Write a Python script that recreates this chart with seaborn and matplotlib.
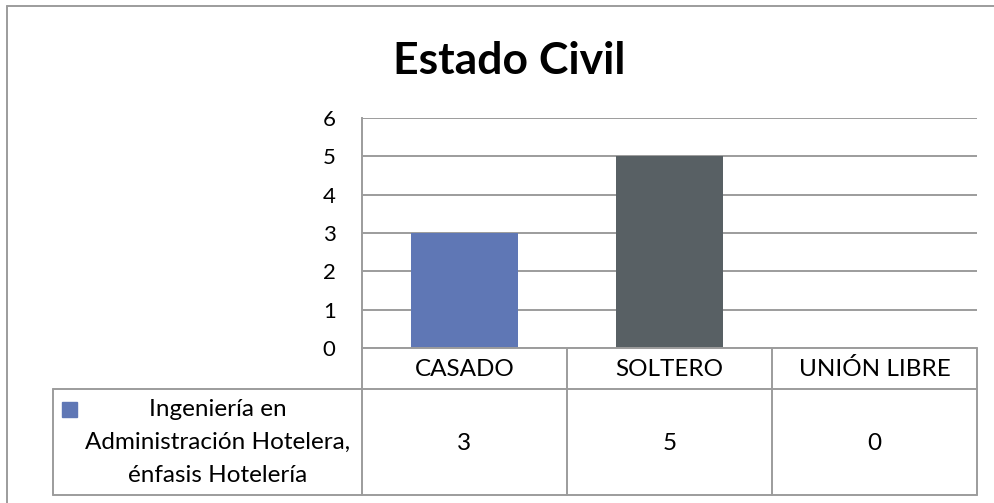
import matplotlib
matplotlib.use("Agg")
import matplotlib.pyplot as plt
import seaborn as sns
import pandas as pd
from matplotlib.lines import Line2D
from matplotlib.patches import Rectangle

# ---- data ----
title = "Estado Civil"
categories = ["CASADO", "SOLTERO", "UNIÓN LIBRE"]
values = [3, 5, 0]
bar_colors = ["#5F77B5", "#586064", "#5F77B5"]
series_label = "Ingeniería en\nAdministración Hotelera,\nénfasis Hotelería"
series_color = "#5F77B5"
yticks = [0, 1, 2, 3, 4, 5, 6]

W, H = 994, 503
LINE = "#9C9C9C"
sns.set_theme(style="white")
plt.rcParams["font.family"] = ["Lato", "DejaVu Sans"]

fig = plt.figure(figsize=(W / 100, H / 100), dpi=100)
fig.patch.set_facecolor("white")


def fx(p):
    return p / W


def fy(p):
    return 1 - p / H


ax = fig.add_axes([fx(362), fy(348), fx(977) - fx(362), fy(118) - fy(348)])
df = pd.DataFrame({"cat": categories, "val": values})
sns.barplot(data=df, x="cat", y="val", hue="cat", palette=bar_colors,
            width=0.52, saturation=1, legend=False, ax=ax, edgecolor="none")
ax.set_xlim(-0.5, len(categories) - 0.5)
ax.set_ylim(min(yticks), max(yticks))
ax.set_yticks(yticks)
ax.set_yticklabels([str(t) for t in yticks], fontsize=16, color="black")
ax.tick_params(axis="y", length=0, pad=19)
ax.set_xticks([])
ax.set_xlabel("")
ax.set_ylabel("")
ax.yaxis.grid(True, color=LINE, lw=1.4)
ax.set_axisbelow(True)
for s in ["top", "right", "bottom"]:
    ax.spines[s].set_visible(False)
ax.spines["left"].set_color(LINE)
ax.spines["left"].set_linewidth(1.4)

# ---- overlay in pixel coordinates for data table and frame ----
ov = fig.add_axes([0, 0, 1, 1], zorder=5)
ov.set_xlim(0, W)
ov.set_ylim(H, 0)
ov.axis("off")
ov.patch.set_alpha(0)


def px_x(xd):
    return ax.transData.transform((xd, 0))[0]


edges = [px_x(i - 0.5) for i in range(len(categories) + 1)]
centers = [px_x(i) for i in range(len(categories))]
y_top, y_mid, y_bot = 348, 389, 495
x_leg = 53


def hline(y, x0, x1):
    ov.add_line(Line2D([x0, x1], [y, y], color=LINE, lw=1.4))


def vline(x, y0, y1):
    ov.add_line(Line2D([x, x], [y0, y1], color=LINE, lw=1.4))


hline(y_top, edges[0], edges[-1])
hline(y_mid, x_leg, edges[-1])
hline(y_bot, x_leg, edges[-1])
vline(x_leg, y_mid, y_bot)
for e in edges:
    vline(e, y_top, y_bot)

for c, cat, v in zip(centers, categories, values):
    ov.text(c, (y_top + y_mid) / 2 + 1, cat, ha="center", va="center",
            fontsize=17.5, color="black")
    ov.text(c, (y_mid + y_bot) / 2 + 1, str(v), ha="center", va="center",
            fontsize=17.5, color="black")

# legend key + series label
ov.add_patch(Rectangle((62, 402), 15, 15, color=series_color))
for i, line in enumerate(series_label.split("\n")):
    ov.text(218, 410 + 32.5 * i, line, ha="center", va="center",
            fontsize=17.5, color="black")

# title
ov.text(509, 61, title, ha="center", va="center", fontsize=32,
        fontweight="bold", color="black")

# outer chart frame (partly cropped)
hline(5.5, 7, W)
vline(7, 5.5, H)

fig.savefig("out.png", dpi=100, facecolor="white")
